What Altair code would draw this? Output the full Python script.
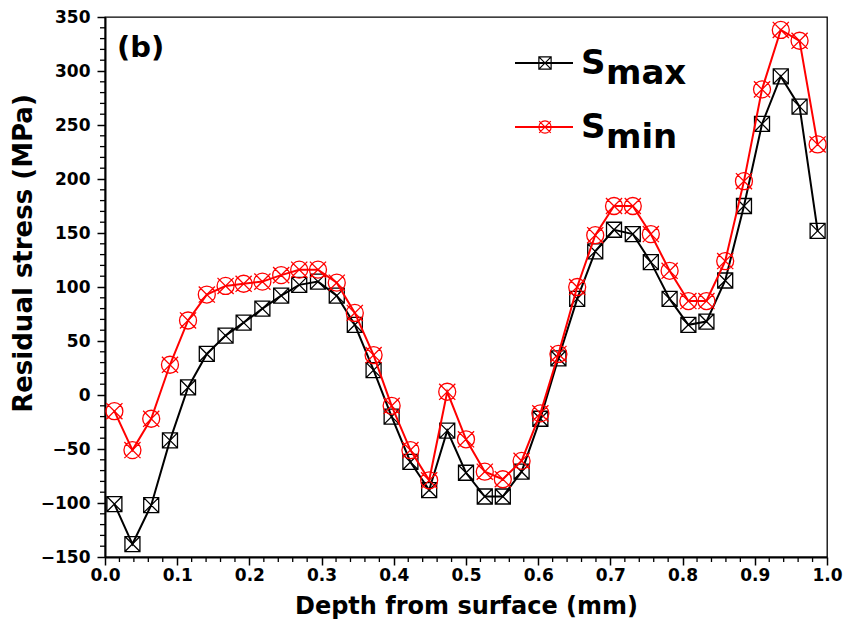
import altair as alt
import pandas as pd

# ---- data ----
depth = [0.013, 0.038, 0.064, 0.090, 0.115, 0.141, 0.167, 0.192, 0.218, 0.244,
         0.269, 0.295, 0.321, 0.346, 0.372, 0.397, 0.423, 0.449, 0.474, 0.500,
         0.526, 0.551, 0.577, 0.603, 0.628, 0.654, 0.679, 0.705, 0.731, 0.756,
         0.782, 0.808, 0.833, 0.859, 0.885, 0.910, 0.936, 0.962, 0.987]
s_max = [-101, -138, -102, -42, 7, 38, 55, 67, 80, 92,
         102, 105, 92, 65, 23, -20, -62, -88, -33, -72,
         -94, -94, -71, -22, 34, 89, 133, 153, 149, 123,
         89, 65, 68, 106, 175, 251, 295, 267, 152]
s_min = [-15, -51, -22, 28, 69, 93, 101, 103, 105, 111,
         116, 116, 104, 76, 37, -10, -51, -79, 3, -41,
         -71, -78, -61, -17, 38, 100, 148, 175, 175, 149,
         115, 87, 87, 124, 198, 283, 338, 328, 232]

series_names = ["Smax", "Smin"]
legend_main = ["S", "S"]
legend_sub = ["max", "min"]
series_colors = ["black", "#ff0000"]

x_ticks = [0.0, 0.1, 0.2, 0.3, 0.4, 0.5, 0.6, 0.7, 0.8, 0.9, 1.0]
y_ticks = [-150, -100, -50, 0, 50, 100, 150, 200, 250, 300, 350]
x_minor = [round(t + k * 0.02, 2) for t in x_ticks[:-1] for k in range(1, 5)]
y_minor = [t + k * 10 for t in y_ticks[:-1] for k in range(1, 5)]

panel_label = "(b)"
x_title = "Depth from surface (mm)"
y_title = "Residual stress (MPa)"

df = pd.DataFrame({
    "depth": depth * 2,
    "stress": s_max + s_min,
    "series": [series_names[0]] * len(depth) + [series_names[1]] * len(depth),
})

SQX = "M-1,-1L1,-1L1,1L-1,1Z M-1,-1L1,1 M1,-1L-1,1"
CIRX = "M1,0A1,1,0,1,1,-1,0A1,1,0,1,1,1,0Z M-0.95,-0.95L0.95,0.95 M0.95,-0.95L-0.95,0.95"
shapes = [SQX, CIRX]
sizes = [225, 289]

W, H = 722, 540
xs = alt.Scale(domain=[0, 1], nice=False, zero=False)
ys = alt.Scale(domain=[-150, 350], nice=False, zero=False)

x_axis = alt.Axis(values=x_ticks, format=".1f", title=x_title,
                  labelFlush=False, labelOverlap=False, labelBound=False,
                  labelPadding=2, titlePadding=11, titleFontSize=24)
y_axis = alt.Axis(values=y_ticks, format="d", title=y_title,
                  labelOverlap=False, labelPadding=7, titlePadding=4,
                  titleFontSize=26, titleY=236)
x_enc = alt.X("depth:Q", scale=xs, axis=x_axis)
y_enc = alt.Y("stress:Q", scale=ys, axis=y_axis)

layers = []
for i, name in enumerate(series_names):
    sub = alt.Chart(df).transform_filter(alt.datum.series == name)
    layers.append(sub.mark_line(color=series_colors[i], strokeWidth=2).encode(x=x_enc, y=y_enc))
    layers.append(sub.mark_point(shape=shapes[i], size=sizes[i], color=series_colors[i],
                                 filled=False, strokeWidth=1.3, opacity=1).encode(x=x_enc, y=y_enc))

# minor ticks (same fields / axes as the data layers so the axes merge)
layers.append(alt.Chart(pd.DataFrame({"stress": y_minor})).mark_rule(color="black", strokeWidth=1.3).encode(
    y=y_enc, x=alt.value(-5), x2=alt.value(0)))
layers.append(alt.Chart(pd.DataFrame({"depth": x_minor})).mark_rule(color="black", strokeWidth=1.3).encode(
    x=x_enc, y=alt.value(H), y2=alt.value(H + 5)))

# panel label
one = pd.DataFrame({"t": [panel_label]})
layers.append(alt.Chart(one).mark_text(align="left", baseline="alphabetic", font="DejaVu Sans",
                                       fontWeight="bold", fontSize=29, color="black").encode(
    x=alt.value(12), y=alt.value(40), text="t:N"))

# manual legend with subscripts
legend_y = [46, 110]
for i in range(2):
    d = pd.DataFrame({"m": [legend_main[i]], "s": [legend_sub[i]]})
    c = alt.Chart(d)
    layers.append(c.mark_rule(color=series_colors[i], strokeWidth=2).encode(
        x=alt.value(410), x2=alt.value(468), y=alt.value(legend_y[i])))
    layers.append(c.mark_point(shape=shapes[i], size=150, color=series_colors[i], filled=False,
                               strokeWidth=1.2, opacity=1).encode(
        x=alt.value(440), y=alt.value(legend_y[i])))
    layers.append(c.mark_text(align="left", baseline="alphabetic", font="DejaVu Sans",
                              fontWeight="bold", fontSize=34, color="black").encode(
        x=alt.value(476), y=alt.value(legend_y[i] + 11), text="m:N"))
    layers.append(c.mark_text(align="left", baseline="alphabetic", font="DejaVu Sans",
                              fontWeight="bold", fontSize=34, color="black").encode(
        x=alt.value(501), y=alt.value(legend_y[i] + 21), text="s:N"))

chart = alt.layer(*layers).properties(
    width=W, height=H,
    autosize=alt.AutoSizeParams(type="none"),
    padding={"left": 105, "top": 17, "right": 19, "bottom": 87},
    background="white",
).configure_view(
    stroke="black", strokeWidth=1.3
).configure_axis(
    grid=False,
    labelFont="DejaVu Sans", labelFontWeight="bold", labelFontSize=17, labelColor="black",
    titleFont="DejaVu Sans", titleFontWeight="bold", titleColor="black",
    domainColor="black", domainWidth=2,
    tickColor="black", tickWidth=1.5, tickSize=8,
)

chart.save("out.html", embed_options={"renderer": "svg", "actions": False})
